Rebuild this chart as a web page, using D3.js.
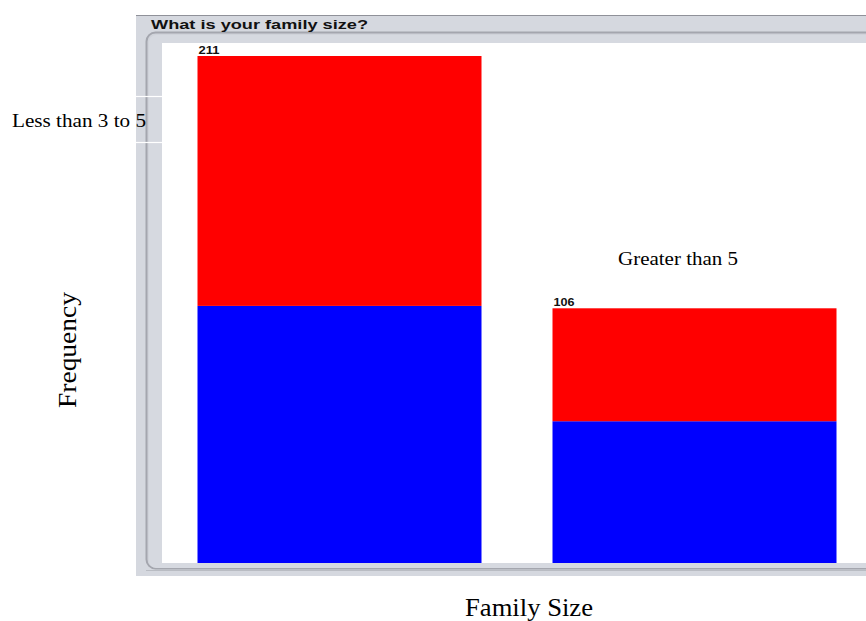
<!DOCTYPE html>
<html>
<head>
<meta charset="utf-8">
<script src="https://cdn.jsdelivr.net/npm/d3@7"></script>
<style>
  html, body { margin: 0; padding: 0; background: #ffffff; }
  svg { display: block; }
</style>
</head>
<body>
<svg id="chart" width="866" height="621"></svg>
<script>
// Family size survey: stacked frequency bars
const categories = ["Less than 3 to 5", "Greater than 5"];
const seriesNames = ["lower", "upper"];
const lowerValues = [107, 59];   // blue segment
const upperValues = [104, 47];   // red segment
const totals = [211, 106];       // value printed above each bar
const seriesColors = ["#0000ff", "#ff0000"];
const chartTitle = "What is your family size?";
const xTitle = "Family Size";
const yTitle = "Frequency";

const svg = d3.select("#chart");

// ---- window-like frame ----
const frame = svg.append("g");
frame.append("rect").attr("x", 136).attr("y", 15).attr("width", 740).attr("height", 561)
  .attr("fill", "#d5d8df");
frame.append("line").attr("x1", 136).attr("x2", 866).attr("y1", 15.5).attr("y2", 15.5)
  .attr("stroke", "#8f9199").attr("stroke-width", 1);
// inner bevel
frame.append("rect").attr("x", 146.5).attr("y", 32.5).attr("width", 740).attr("height", 536)
  .attr("rx", 9).attr("fill", "#d0d3da").attr("stroke", "#a4a6ae").attr("stroke-width", 2);
frame.append("rect").attr("x", 149).attr("y", 35).attr("width", 740).attr("height", 533)
  .attr("rx", 7).attr("fill", "#d6d9e0");
frame.append("line").attr("x1", 146).attr("x2", 866).attr("y1", 570.5).attr("y2", 570.5)
  .attr("stroke", "#b9bcc3").attr("stroke-width", 1);
// white plotting area
frame.append("rect").attr("x", 162).attr("y", 43).attr("width", 710).attr("height", 520)
  .attr("fill", "#ffffff");
// separators beside the first category label
[96.5, 142.5].forEach(yv => {
  frame.append("line").attr("x1", 136).attr("x2", 162).attr("y1", yv).attr("y2", yv)
    .attr("stroke", "#ffffff").attr("stroke-width", 1.2);
});

frame.append("text")
  .attr("x", 151).attr("y", 28.5)
  .attr("font-family", "Liberation Sans, Arial, sans-serif")
  .attr("font-weight", "bold").attr("font-size", 12.5)
  .attr("textLength", 217).attr("lengthAdjust", "spacingAndGlyphs")
  .attr("fill", "#111")
  .text(chartTitle);

// ---- scales ----
const x = d3.scaleBand().domain(categories).range([162, 872])
  .paddingInner(0.2).paddingOuter(0.1);
const y = d3.scaleLinear().domain([0, d3.max(totals)]).range([563, 56]);

const rows = categories.map((c, i) => ({ cat: c, lower: lowerValues[i], upper: upperValues[i] }));
const stacked = d3.stack().keys(seriesNames)(rows);

const bars = svg.append("g");
stacked.forEach((layer, li) => {
  bars.selectAll(null).data(layer).join("rect")
    .attr("x", d => x(d.data.cat))
    .attr("width", x.bandwidth())
    .attr("y", d => y(d[1]))
    .attr("height", d => y(d[0]) - y(d[1]))
    .attr("fill", seriesColors[li]);
});

// value labels above bars
svg.append("g").selectAll("text").data(categories).join("text")
  .attr("x", d => x(d) + 1)
  .attr("y", (d, i) => y(totals[i]) - 2)
  .attr("font-family", "Liberation Sans, Arial, sans-serif")
  .attr("font-size", 10).attr("font-weight", 600)
  .attr("textLength", 21).attr("lengthAdjust", "spacingAndGlyphs")
  .attr("fill", "#111")
  .text((d, i) => totals[i]);

// category labels
const catPos = [[12, 127, 134], [618, 265, 120]];
svg.append("g").selectAll("text").data(categories).join("text")
  .attr("x", (d, i) => catPos[i][0])
  .attr("y", (d, i) => catPos[i][1])
  .attr("textLength", (d, i) => catPos[i][2]).attr("lengthAdjust", "spacingAndGlyphs")
  .attr("font-family", "Liberation Serif, 'Times New Roman', serif")
  .attr("font-size", 19)
  .attr("fill", "#000")
  .text(d => d);

// axis titles
svg.append("text")
  .attr("x", 529).attr("y", 616)
  .attr("text-anchor", "middle")
  .attr("textLength", 128).attr("lengthAdjust", "spacingAndGlyphs")
  .attr("font-family", "Liberation Serif, 'Times New Roman', serif")
  .attr("font-size", 25)
  .attr("fill", "#000")
  .text(xTitle);

svg.append("text")
  .attr("transform", "translate(76,350) rotate(-90)")
  .attr("text-anchor", "middle")
  .attr("textLength", 116).attr("lengthAdjust", "spacingAndGlyphs")
  .attr("font-family", "Liberation Serif, 'Times New Roman', serif")
  .attr("font-size", 25)
  .attr("fill", "#000")
  .text(yTitle);
</script>
</body>
</html>
